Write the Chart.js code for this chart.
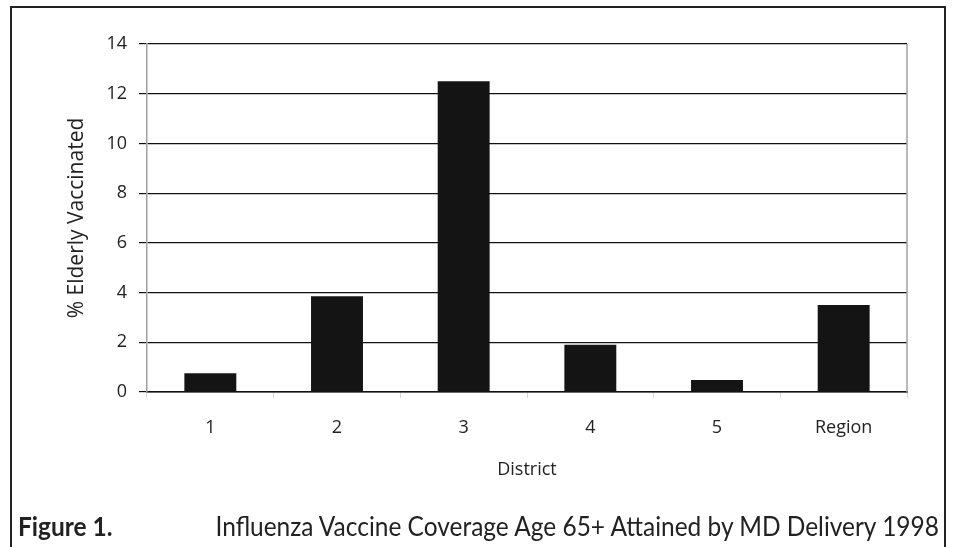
<!DOCTYPE html>
<html>
<head>
<meta charset="utf-8">
<script src="https://cdn.jsdelivr.net/npm/chart.js@4"></script>
<style>
  html, body { margin: 0; padding: 0; background: #fff; }
  #wrap { position: relative; width: 956px; height: 547px; overflow: hidden; font-family: "Open Sans", sans-serif; }
  #frame { position: absolute; left: 10px; top: 6px; width: 936px; height: 560px; border: 2px solid #222; box-sizing: border-box; }
  #chart { position: absolute; left: 0; top: 0; }
  #caption { position: absolute; left: 18px; top: 511px; font-family: Lato, sans-serif; font-size: 27px; line-height: 30px;
             color: #222; white-space: nowrap; transform: scaleX(0.906); transform-origin: 0 0; }
  #caption b { display: inline-block; width: 218px; font-weight: bold; }
</style>
</head>
<body>
<div id="wrap">
  <div id="frame"></div>
  <canvas id="chart" width="956" height="547"></canvas>
  <div id="caption"><b>Figure 1.</b>Influenza Vaccine Coverage Age 65+ Attained by MD Delivery 1998</div>
</div>
<script>
// district values
const districts = ['1', '2', '3', '4', '5', 'Region'];
const vaccinated = [0.75, 3.85, 12.5, 1.9, 0.48, 3.5];
const yTicks = [0, 2, 4, 6, 8, 10, 12, 14];

const textColor = '#222';
const axisFont = 'Open Sans';

// gray right-hand edge of the plot box
const rightEdge = {
  id: 'rightEdge',
  afterDraw(chart) {
    const {ctx, chartArea} = chart;
    ctx.save();
    ctx.strokeStyle = '#a0a0a0';
    ctx.lineWidth = 1.5;
    ctx.beginPath();
    ctx.moveTo(chartArea.right, chartArea.top);
    ctx.lineTo(chartArea.right, chartArea.bottom);
    ctx.stroke();
    ctx.restore();
  }
};

const chart = new Chart(document.getElementById('chart'), {
  type: 'bar',
  data: {
    labels: districts,
    datasets: [{
      label: '% Elderly Vaccinated',
      data: vaccinated,
      backgroundColor: '#141414',
      borderWidth: 0,
      barPercentage: 0.41,
      categoryPercentage: 1
    }]
  },
  options: {
    responsive: false,
    animation: false,
    layout: { padding: { left: 0, right: 49, top: 44, bottom: 55 } },
    plugins: { legend: { display: false }, tooltip: { enabled: false } },
    scales: {
      x: {
        afterFit: s => { s.height = 100; },
        grid: { drawOnChartArea: false, tickLength: 6, color: '#d8d8d8' },
        border: { color: '#111', width: 1.5 },
        ticks: { color: textColor, font: { family: axisFont, size: 18 }, padding: 19 },
        title: { display: true, text: 'District', color: textColor, font: { family: axisFont, size: 18 }, padding: { top: 0, bottom: 11 } }
      },
      y: {
        min: 0,
        max: 14,
        afterFit: s => { s.width = 147; },
        afterBuildTicks: s => { s.ticks = yTicks.map(v => ({ value: v })); },
        grid: { color: '#111', lineWidth: 1.2, tickLength: 8 },
        border: { color: '#a0a0a0', width: 1.5 },
        ticks: { color: textColor, font: { family: axisFont, size: 18 }, padding: 12 },
        title: { display: true, text: '% Elderly Vaccinated', color: textColor, font: { family: axisFont, size: 21 }, padding: { top: 64, bottom: 0 } }
      }
    }
  },
  plugins: [rightEdge]
});
</script>
</body>
</html>
